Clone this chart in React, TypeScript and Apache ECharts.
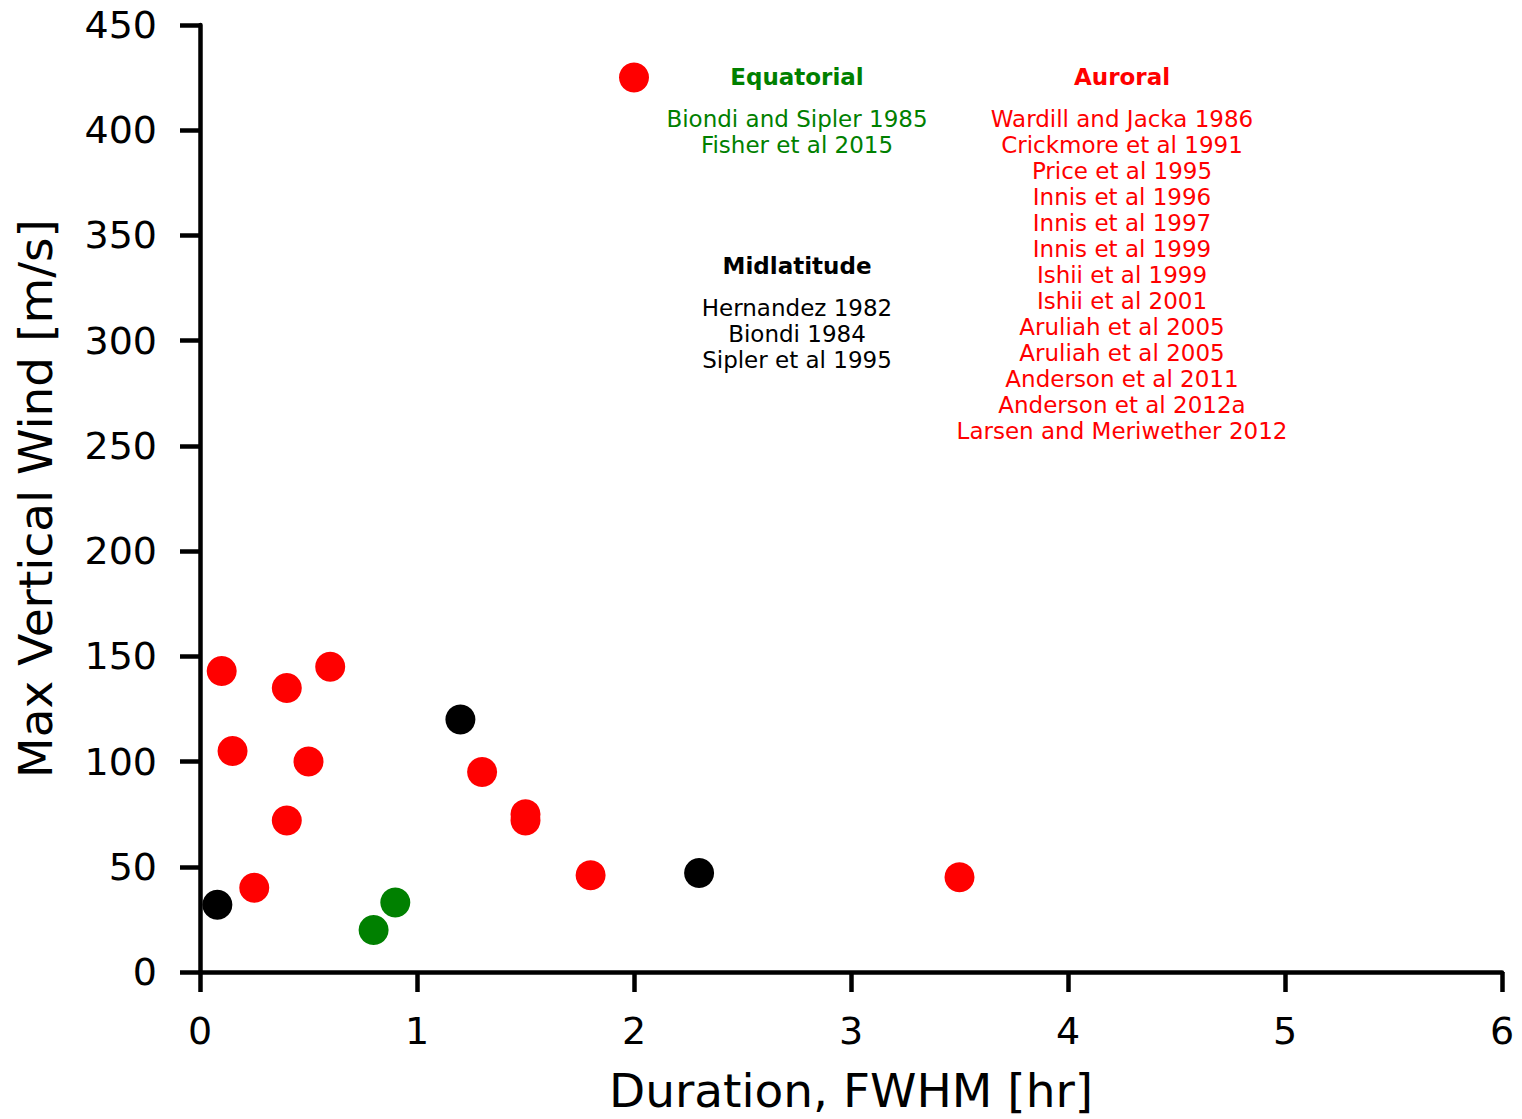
import React, { useEffect, useRef } from "react";
import * as echarts from "echarts";

const auroralX = [2.0, 0.1, 0.15, 0.4, 0.6, 0.5, 0.4, 0.25, 1.3, 1.5, 1.5, 1.8, 3.5];
const auroralY = [425, 143, 105, 135, 145, 100, 72, 40, 95, 75, 72, 46, 45];
const midlatX = [0.08, 1.2, 2.3];
const midlatY = [32, 120, 47];
const equatorialX = [0.8, 0.9];
const equatorialY = [20, 33];

const equatorialRefs = ["Biondi and Sipler 1985", "Fisher et al 2015"];
const midlatRefs = ["Hernandez 1982", "Biondi 1984", "Sipler et al 1995"];
const auroralRefs = [
  "Wardill and Jacka 1986",
  "Crickmore et al 1991",
  "Price et al 1995",
  "Innis et al 1996",
  "Innis et al 1997",
  "Innis et al 1999",
  "Ishii et al 1999",
  "Ishii et al 2001",
  "Aruliah et al 2005",
  "Aruliah et al 2005",
  "Anderson et al 2011",
  "Anderson et al 2012a",
  "Larsen and Meriwether 2012",
];

const xTicks = [0, 1, 2, 3, 4, 5, 6];
const yTicks = [0, 50, 100, 150, 200, 250, 300, 350, 400, 450];

const FONT = "DejaVu Sans";
const RED = "#ff0000";
const GREEN = "#008000";
const BLACK = "#000000";

function pairs(xs: number[], ys: number[]) {
  return xs.map((x, i) => [x, ys[i]]);
}

function block(title: string, lines: string[], color: string, cx: number, titleY: number, firstY: number) {
  const els: any[] = [
    {
      type: "text",
      x: cx,
      y: titleY,
      style: {
        text: title,
        fill: color,
        font: `bold 23px '${FONT}'`,
        align: "center",
        verticalAlign: "middle",
      },
    },
  ];
  lines.forEach((t, i) => {
    els.push({
      type: "text",
      x: cx,
      y: firstY + i * 26,
      style: {
        text: t,
        fill: color,
        font: `23px '${FONT}'`,
        align: "center",
        verticalAlign: "middle",
      },
    });
  });
  return els;
}

export default function App() {
  const ref = useRef<HTMLDivElement>(null);
  useEffect(() => {
    if (!ref.current) return;
    const chart = echarts.init(ref.current, null, { renderer: "svg" });
    const axisCommon = {
      axisLine: { show: true, lineStyle: { color: BLACK, width: 4.5 } },
      axisTick: { show: true, inside: false, length: 20, lineStyle: { color: BLACK, width: 4.5 } },
      splitLine: { show: false },
      nameLocation: "middle" as const,
    };
    chart.setOption({
      animation: false,
      backgroundColor: "#ffffff",
      grid: {
        left: 200,
        right: 20,
        top: 25,
        bottom: 147,
        containLabel: false,
        outerBoundsMode: "none",
      },
      xAxis: {
        type: "value",
        min: xTicks[0],
        max: xTicks[xTicks.length - 1],
        interval: 1,
        name: "Duration, FWHM [hr]",
        nameGap: 142,
        ...axisCommon,
        nameTextStyle: {
          fontFamily: FONT,
          fontSize: 47,
          color: BLACK,
          verticalAlign: "bottom",
        },
        axisLabel: { fontFamily: FONT, fontSize: 38, color: BLACK, margin: 40 },
      },
      yAxis: {
        type: "value",
        min: yTicks[0],
        max: yTicks[yTicks.length - 1],
        interval: 50,
        name: "Max Vertical Wind [m/s]",
        nameGap: 141,
        ...axisCommon,
        nameTextStyle: { fontFamily: FONT, fontSize: 47, color: BLACK },
        axisLabel: { fontFamily: FONT, fontSize: 38, color: BLACK, margin: 43 },
      },
      series: [
        {
          name: "Auroral",
          type: "scatter",
          data: pairs(auroralX, auroralY),
          symbol: "circle",
          symbolSize: 30,
          itemStyle: { color: RED, opacity: 1 },
          z: 3,
        },
        {
          name: "Midlatitude",
          type: "scatter",
          data: pairs(midlatX, midlatY),
          symbol: "circle",
          symbolSize: 30,
          itemStyle: { color: BLACK, opacity: 1 },
          z: 3,
        },
        {
          name: "Equatorial",
          type: "scatter",
          data: pairs(equatorialX, equatorialY),
          symbol: "circle",
          symbolSize: 30,
          itemStyle: { color: GREEN, opacity: 1 },
          z: 3,
        },
      ],
      graphic: [
        ...block("Equatorial", equatorialRefs, GREEN, 797, 77, 119),
        ...block("Midlatitude", midlatRefs, BLACK, 797, 266, 308),
        ...block("Auroral", auroralRefs, RED, 1122, 77, 119),
      ],
    });
    return () => chart.dispose();
  }, []);
  return (
    <div
      ref={ref}
      style={{ position: "fixed", left: 0, top: 0, width: 1522, height: 1119, background: "#fff" }}
    />
  );
}
